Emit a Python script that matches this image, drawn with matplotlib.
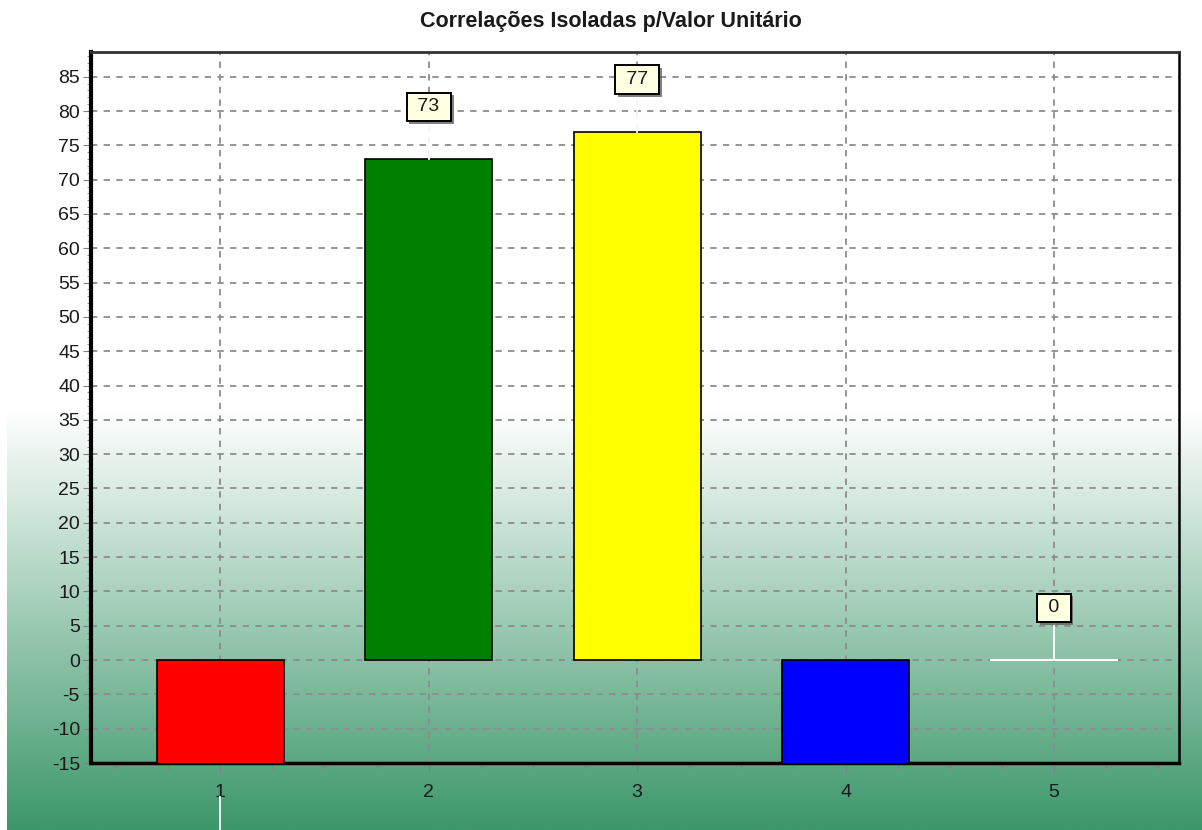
import numpy as np
import matplotlib
matplotlib.use("Agg")
import matplotlib.pyplot as plt
import matplotlib.patheffects as pe
from matplotlib.ticker import MultipleLocator

categories = [1, 2, 3, 4, 5]
values = [-20, 73, 77, -35, 0]
bar_colors = ["#ff0000", "#008000", "#ffff00", "#0000ff", "#ffffff"]
title = "Correlações Isoladas p/Valor Unitário"

plt.rcParams["font.family"] = ["Liberation Sans", "DejaVu Sans"]
plt.rcParams["axes.unicode_minus"] = False

W, H = 1202, 830
fig = plt.figure(figsize=(W / 100, H / 100), dpi=100)
fig.patch.set_facecolor("white")

# background: white on top, fading to green towards the bottom
bg = fig.add_axes([7 / W, 0, 1 - 7 / W, 1 - 408 / H], zorder=-10)
top = np.array([1.0, 1.0, 1.0])
bottom = np.array([60, 151, 106]) / 255
t = np.linspace(0, 1, 256)[:, None]
grad = (1 - t) * top + t * bottom
bg.imshow(grad[:, None, :], aspect="auto", extent=[0, 1, 0, 1])
bg.axis("off")

ax = fig.add_axes([91 / W, 1 - 763 / H, (1179 - 91) / W, (763 - 52) / H])
ax.set_facecolor("none")
ax.set_xlim(0.38, 5.6)
ax.set_ylim(-15, 88.6)

ax.grid(True, which="major", color="#8c8c8c", linestyle=(0, (3.5, 3.5)), linewidth=1.3)
ax.set_axisbelow(True)

ax.bar(categories, values, width=0.61, color=bar_colors, edgecolor="black",
       linewidth=1.2, zorder=3)
# the zero bar shows as a white line
ax.hlines(values[4], categories[4] - 0.305, categories[4] + 0.305,
          color="white", linewidth=1.5, zorder=4)

# value marks with callout lines; marks of negative bars fall below the canvas
for x, v in zip(categories, values):
    ly = v + 7.5 if v >= 0 else v - 7.5
    ax.plot([x, x], [v, ly], color="white", linewidth=1.3, zorder=4, clip_on=False)
    if v < 0:
        continue
    txt = ax.annotate(" %d " % v, (x, ly + 0.1), ha="center",
                      va="center", fontsize=14, color="#1a1a1a", zorder=6,
                      annotation_clip=False,
                      bbox=dict(boxstyle="square,pad=0.3", fc="#ffffe1", ec="black", lw=1.4))
    txt.get_bbox_patch().set_path_effects(
        [pe.SimplePatchShadow(offset=(2, -2), shadow_rgbFace="#606060", alpha=0.8), pe.Normal()])

ax.set_xticks(categories)
ax.xaxis.set_minor_locator(MultipleLocator(0.25))
ax.yaxis.set_major_locator(MultipleLocator(5))
ax.yaxis.set_minor_locator(MultipleLocator(1))
ax.tick_params(axis="y", which="major", direction="out", length=6, color="#808080",
               labelsize=14, pad=2, labelcolor="#1a1a1a")
ax.tick_params(axis="y", which="minor", direction="out", length=3, color="#808080")
ax.tick_params(axis="x", which="major", direction="out", length=7, color="#808080",
               labelsize=14, pad=8, labelcolor="#1a1a1a")
ax.tick_params(axis="x", which="minor", direction="out", length=4, color="#808080")

ax.spines["left"].set_linewidth(3)
ax.spines["left"].set_color("black")
ax.spines["bottom"].set_linewidth(2.5)
ax.spines["bottom"].set_color("black")
ax.spines["bottom"].set_linestyle((0, (3, 1)))
ax.spines["right"].set_linewidth(1.8)
ax.spines["right"].set_color("black")
ax.spines["top"].set_linewidth(2)
ax.spines["top"].set_color("#333333")

fig.text(0.508, 1 - 22 / H, title, ha="center", va="center", fontsize=15.5,
         fontweight="bold", color="#1a1a1a")

fig.savefig("out.png", dpi=100)
